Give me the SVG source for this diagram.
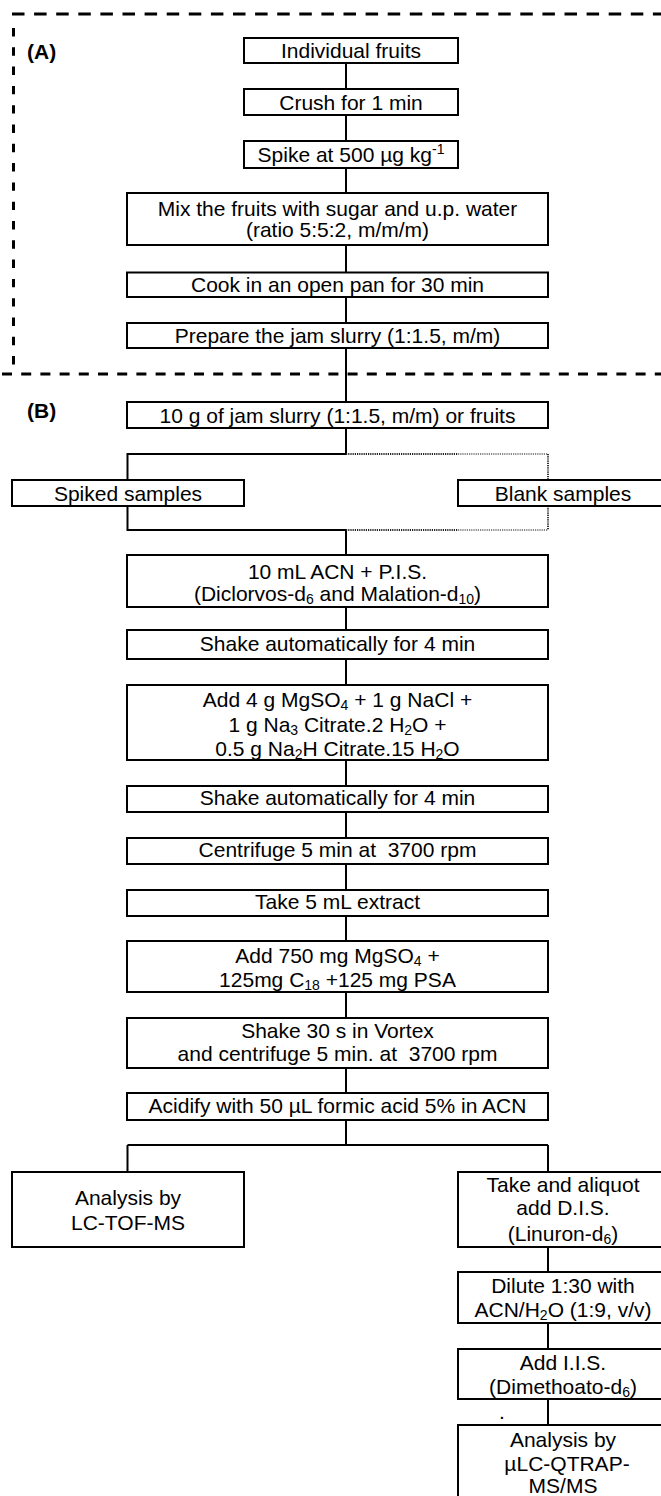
<svg xmlns="http://www.w3.org/2000/svg" width="661" height="1496" viewBox="0 0 661 1496">
<style>
.b{fill:#fff;stroke:#000;stroke-width:2}
.t{font-family:"Liberation Sans",Arial,sans-serif;font-size:21px;text-anchor:middle;fill:#000}
.s{font-size:14px}
.c{stroke:#000;stroke-width:2;fill:none}
.d{stroke-width:2;fill:none;stroke-dasharray:1.2 1}
.lab{font-family:"Liberation Sans",Arial,sans-serif;font-size:21px;font-weight:bold;fill:#000}
.f{stroke:#000;stroke-width:3;fill:none}
</style>
<rect width="661" height="1496" fill="#fff"/>
<g id="frame">
<line class="f" x1="12" y1="14" x2="661" y2="14" stroke-dasharray="12.5 9.6"/>
<line class="f" x1="13.5" y1="28" x2="13.5" y2="368" stroke-dasharray="8.4 10.9"/>
<line class="f" x1="2" y1="374" x2="661" y2="374" stroke-dasharray="10 9.2"/>
<text class="lab" x="27" y="59">(A)</text>
<text class="lab" x="27" y="418">(B)</text>
</g>
<g id="connectors">
<path class="c" d="M346 63V89M346 115V141M346 168V193M346 245V272.5M346 297V323M346 348V402M346 428V454M346 454H127.5V480M127.5 506V530H346M346 530V555M346 607V630M346 659V685M346 760V786M346 812V838M346 864V890M346 916V941M346 992V1018M346 1068V1093M346 1120V1145M127.5 1145H548M127.5 1145V1172M548 1145V1172M548 1247V1272M548 1323V1349M548 1399V1425"/>
<path class="d" stroke="#222" d="M346 454H458M346 530H458"/>
<path class="d" stroke="#888" d="M458 454H548M458 530H548"/>
<path class="d" stroke="#333" d="M548 454V480M548 506V530"/>
</g>
<g id="n1"><rect class="b" x="244" y="38" width="214" height="25"/><text class="t" x="351" y="58">Individual fruits</text></g>
<g id="n2"><rect class="b" x="244" y="89" width="214" height="26"/><text class="t" x="351" y="109.5">Crush for 1 min</text></g>
<g id="n3"><rect class="b" x="244" y="141" width="214" height="27"/><text class="t" x="351" y="162">Spike at 500 µg kg<tspan class="s" dy="-8">-1</tspan></text></g>
<g id="n4"><rect class="b" x="127" y="193" width="421" height="52"/><text class="t" x="337.5" y="216">Mix the fruits with sugar and u.p. water</text><text class="t" x="337.5" y="237">(ratio 5:5:2, m/m/m)</text></g>
<g id="n5"><rect class="b" x="127" y="272.5" width="421" height="24.5"/><text class="t" x="337.5" y="292">Cook in an open pan for 30 min</text></g>
<g id="n6"><rect class="b" x="127" y="323" width="421" height="25"/><text class="t" x="337.5" y="343">Prepare the jam slurry (1:1.5, m/m)</text></g>
<g id="n7"><rect class="b" x="127" y="402" width="421" height="26"/><text class="t" x="337.5" y="422.5">10 g of jam slurry (1:1.5, m/m) or fruits</text></g>
<g id="n8"><rect class="b" x="12" y="480" width="232" height="26"/><text class="t" x="128" y="500.5">Spiked samples</text></g>
<g id="n9"><rect class="b" x="458" y="480" width="209" height="26"/><text class="t" x="563" y="500.5">Blank samples</text></g>
<g id="n10"><rect class="b" x="127" y="555" width="421" height="52"/><text class="t" x="337.5" y="578.5">10 mL ACN + P.I.S.</text><text class="t" x="337.5" y="600.5">(Diclorvos-d<tspan class="s" dy="3">6</tspan><tspan dy="-3"> and Malation-d</tspan><tspan class="s" dy="3">10</tspan><tspan dy="-3">)</tspan></text></g>
<g id="n11"><rect class="b" x="127" y="630" width="421" height="29"/><text class="t" x="337.5" y="650.5">Shake automatically for 4 min</text></g>
<g id="n12"><rect class="b" x="127" y="685" width="421" height="75"/><text class="t" x="337.5" y="706.5">Add 4 g MgSO<tspan class="s" dy="3">4</tspan><tspan dy="-3"> + 1 g NaCl +</tspan></text><text class="t" x="337.5" y="731.5">1 g Na<tspan class="s" dy="3">3</tspan><tspan dy="-3"> Citrate.2 H</tspan><tspan class="s" dy="3">2</tspan><tspan dy="-3">O +</tspan></text><text class="t" x="337.5" y="756">0.5 g Na<tspan class="s" dy="3">2</tspan><tspan dy="-3">H Citrate.15 H</tspan><tspan class="s" dy="3">2</tspan><tspan dy="-3">O</tspan></text></g>
<g id="n13"><rect class="b" x="127" y="786" width="421" height="26"/><text class="t" x="337.5" y="805">Shake automatically for 4 min</text></g>
<g id="n14"><rect class="b" x="127" y="838" width="421" height="26"/><text class="t" x="337.5" y="857" xml:space="preserve">Centrifuge 5 min at  3700 rpm</text></g>
<g id="n15"><rect class="b" x="127" y="890" width="421" height="26"/><text class="t" x="337.5" y="909">Take 5 mL extract</text></g>
<g id="n16"><rect class="b" x="127" y="941" width="421" height="51"/><text class="t" x="337.5" y="963">Add 750 mg MgSO<tspan class="s" dy="3">4</tspan><tspan dy="-3"> +</tspan></text><text class="t" x="337.5" y="986.5">125mg C<tspan class="s" dy="3">18</tspan><tspan dy="-3"> +125 mg PSA</tspan></text></g>
<g id="n17"><rect class="b" x="127" y="1018" width="421" height="50"/><text class="t" x="337.5" y="1038">Shake 30 s in Vortex</text><text class="t" x="337.5" y="1061" xml:space="preserve">and centrifuge 5 min. at  3700 rpm</text></g>
<g id="n18"><rect class="b" x="127" y="1093" width="421" height="27"/><text class="t" x="337.5" y="1113">Acidify with 50 µL formic acid 5% in ACN</text></g>
<g id="n19"><rect class="b" x="12" y="1172" width="232" height="75"/><text class="t" x="128" y="1205">Analysis by</text><text class="t" x="128" y="1230">LC-TOF-MS</text></g>
<g id="n20"><rect class="b" x="458" y="1172" width="209" height="75"/><text class="t" x="563" y="1191.5">Take and aliquot</text><text class="t" x="563" y="1215">add D.I.S.</text><text class="t" x="563" y="1240.5">(Linuron-d<tspan class="s" dy="3">6</tspan><tspan dy="-3">)</tspan></text></g>
<g id="n21"><rect class="b" x="458" y="1272" width="209" height="51"/><text class="t" x="563" y="1293">Dilute 1:30 with</text><text class="t" x="563" y="1317">ACN/H<tspan class="s" dy="3">2</tspan><tspan dy="-3">O (1:9, v/v)</tspan></text></g>
<g id="n22"><rect class="b" x="458" y="1349" width="209" height="50"/><text class="t" x="563" y="1370">Add I.I.S.</text><text class="t" x="563" y="1393.5">(Dimethoato-d<tspan class="s" dy="3">6</tspan><tspan dy="-3">)</tspan></text></g>
<g id="n23"><text class="t" x="502" y="1419">.</text></g>
<g id="n24"><rect class="b" x="458" y="1425" width="209" height="90"/><text class="t" x="563" y="1446.5">Analysis by</text><text class="t" x="567" y="1470.5">µLC-QTRAP-</text><text class="t" x="563" y="1493">MS/MS</text></g>
</svg>
